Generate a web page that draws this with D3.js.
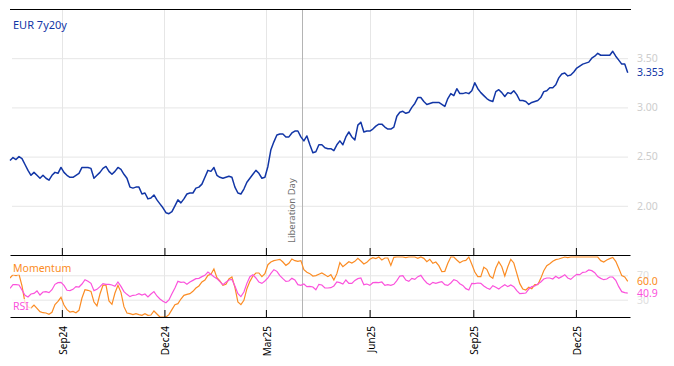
<!DOCTYPE html>
<html>
<head>
<meta charset="utf-8">
<script src="https://cdn.jsdelivr.net/npm/d3@7"></script>
<style>
    body { margin: 0; background: #fff; }
    text { font-family: "Noto Sans", "Open Sans", sans-serif; }
</style>
</head>
<body>
<div id="divChart"></div>
<script>
//series info
var seriesName = "EUR 7y20y";
var firstDate = "2024-07-17";
var lastDate = "2026-01-16";

//EUR 7y20y forward rate (roughly every other trading day)
var rateValues = [
    2.46, 2.49, 2.47, 2.50, 2.48, 2.42, 2.36, 2.31, 2.34, 2.31, 2.28, 2.31, 2.28, 2.26, 2.31, 2.34, 2.33, 2.39,
    2.34, 2.31, 2.29, 2.29, 2.31, 2.33, 2.39, 2.39, 2.39, 2.38, 2.28, 2.31, 2.34, 2.38, 2.40, 2.35, 2.32, 2.35,
    2.39, 2.37, 2.32, 2.28, 2.19, 2.18, 2.19, 2.19, 2.12, 2.13, 2.07, 2.08, 2.11, 2.06, 2.02, 1.98, 1.93,
    1.92, 1.94, 2.00, 2.06, 2.03, 2.07, 2.12, 2.13, 2.13, 2.18, 2.19, 2.22, 2.29, 2.36, 2.35, 2.39, 2.31, 2.29,
    2.28, 2.29, 2.30, 2.29, 2.19, 2.13, 2.12, 2.17, 2.24, 2.28, 2.32, 2.36, 2.33, 2.28, 2.29, 2.40, 2.57, 2.65,
    2.72, 2.73, 2.73, 2.70, 2.70, 2.74, 2.76, 2.76, 2.70, 2.66, 2.71, 2.62, 2.54,
    2.55, 2.62, 2.62, 2.59, 2.58, 2.58, 2.56, 2.62, 2.66, 2.62, 2.70, 2.75, 2.70, 2.67, 2.82, 2.85, 2.75, 2.76,
    2.76, 2.78, 2.81, 2.83, 2.83, 2.80, 2.78, 2.78, 2.80, 2.91, 2.95, 2.96, 2.94, 2.95, 3.00, 3.04, 3.10, 3.10,
    3.06, 3.03, 3.04, 3.05, 3.05, 3.05, 3.03, 3.01, 3.09, 3.14, 3.12, 3.19, 3.14, 3.14, 3.15, 3.14, 3.17, 3.25,
    3.19, 3.15, 3.12, 3.09, 3.07, 3.06, 3.16, 3.18, 3.15, 3.11, 3.15, 3.14, 3.17, 3.13, 3.07, 3.07, 3.06, 3.03,
    3.05, 3.06, 3.07, 3.10, 3.16, 3.17, 3.20, 3.20, 3.23, 3.30, 3.34, 3.35, 3.32, 3.33, 3.36, 3.40, 3.42, 3.44,
    3.45, 3.46, 3.50, 3.52, 3.55, 3.53, 3.53, 3.53, 3.53, 3.57, 3.52, 3.48, 3.44, 3.44, 3.353
];

var momentumValues = [
    65.6, 71.0, 69.4, 71.6, 52.5, 25.1, 18.0, 16.4, 21.3, 15.8, 10.4, 8.7, 8.2, 6.0, 9.3, 21.9, 27.3, 33.9,
    21.3, 13.7, 9.8, 10.9, 8.7, 12.6, 32.8, 46.4, 45.4, 43.7, 26.2, 19.7, 39.3, 53.5, 54.1, 27.9, 22.4, 41.0,
    53.5, 42.1, 18.6, 8.2, 7.1, 5.5, 7.1, 5.5, 4.4, 7.1, 4.4, 4.9, 11.5, 6.6, 1.6, 1.6, 1.6, 5.5, 13.7, 21.9,
    23.5, 31.1, 37.2, 38.8, 39.9, 43.7, 49.2, 52.5, 59.0, 62.3, 69.9, 71.6, 80.3, 66.1, 60.7, 53.5, 55.2, 63.9,
    67.2, 50.3, 26.2, 21.9, 29.0, 48.1, 60.1, 68.8, 73.8, 73.8, 67.8, 72.7, 87.4, 91.8, 94.0, 95.1, 96.2, 91.8,
    86.3, 89.6, 96.7, 94.0, 92.9, 94.0, 79.2, 74.9, 72.7, 68.8, 69.4,
    71.6, 73.8, 71.0, 67.8, 71.0, 62.3, 72.7, 90.7, 84.1, 88.0, 92.3, 90.2, 92.9, 97.8, 93.4, 88.5, 91.2, 96.2,
    98.9, 97.3, 100, 95.1, 98.4, 98.4, 86.3, 99.4, 100, 100, 100, 98.9, 100, 100, 100, 97.8, 100, 97.8,
    92.3, 96.2, 89.6, 91.8, 85.8, 76.0, 76.5, 89.6, 100, 100, 95.1, 90.7, 93.4, 94.5, 100, 88.0, 75.4, 67.8,
    67.8, 83.1, 79.8, 68.8, 65.0, 82.0, 92.3, 84.1, 68.8, 84.1, 96.2, 90.2, 73.2, 56.3, 47.5, 45.9, 50.3, 48.1,
    54.6, 54.6, 65.0, 77.6, 85.8, 89.1, 92.9, 95.6, 96.7, 98.4, 100, 98.9, 100, 100, 100, 100, 100, 100,
    100, 100, 100, 100, 94.0, 91.8, 95.1, 97.3, 99.4, 92.9, 81.4, 69.4, 67.2, 60.0
];

var rsiValues = [
    48.6, 54.6, 54.6, 54.1, 45.9, 37.2, 34.4, 39.3, 40.4, 44.3, 37.7, 42.6, 43.2, 41.5, 46.4, 55.2, 57.9, 58.5,
    53.5, 45.4, 44.8, 47.0, 51.4, 50.8, 55.7, 62.8, 60.1, 56.8, 44.8, 47.0, 51.4, 56.3, 55.2, 55.2, 54.1, 51.9,
    59.0, 51.9, 43.2, 38.8, 35.0, 37.2, 37.7, 39.9, 37.7, 39.3, 34.4, 39.3, 43.2, 36.1, 31.1, 27.3, 25.1, 29.5,
    39.9, 49.2, 60.1, 58.5, 59.0, 55.2, 59.0, 61.7, 64.5, 65.0, 67.8, 69.9, 75.4, 71.6, 67.8, 64.5, 59.6, 54.6,
    58.5, 62.3, 63.4, 52.5, 39.9, 35.0, 42.6, 56.8, 67.8, 71.0, 65.6, 59.0, 56.8, 60.7, 65.6, 73.2, 79.2, 76.5,
    69.4, 64.5, 60.1, 60.7, 65.0, 62.3, 54.6, 53.5, 55.7, 51.4, 51.9, 50.8, 46.4,
    55.2, 54.1, 49.2, 49.2, 49.7, 52.5, 59.0, 57.9, 55.7, 62.3, 56.8, 56.8, 61.7, 64.5, 65.6, 54.6, 55.7, 53.5,
    57.9, 58.5, 57.9, 59.0, 53.5, 54.6, 53.5, 55.2, 61.2, 68.8, 69.4, 62.3, 60.1, 65.0, 63.4, 67.8, 69.9, 62.8,
    57.4, 54.6, 58.5, 56.8, 58.5, 59.6, 54.6, 53.5, 57.4, 62.8, 61.2, 56.3, 53.5, 48.1, 45.9, 56.8, 56.3, 57.4,
    56.8, 52.5, 49.2, 47.0, 53.0, 50.3, 47.5, 51.4, 54.6, 51.4, 54.1, 51.4, 44.8, 39.9, 40.4, 41.0, 47.5, 51.4,
    52.5, 55.7, 59.0, 63.9, 65.6, 65.6, 63.9, 68.3, 65.0, 67.8, 71.0, 65.6, 63.4, 67.8, 71.6, 71.0, 74.9, 75.4,
    78.7, 77.6, 74.3, 67.8, 65.0, 62.8, 63.9, 67.2, 67.2, 61.7, 51.4, 43.2, 41.5, 40.9
];

var rateTicks = [2.0, 2.5, 3.0, 3.5];
var oscTicks = [30, 70];
var monthTicks = ["2024-09-01", "2024-12-01", "2025-03-01", "2025-06-01", "2025-09-01", "2025-12-01"];
var eventDate = "2025-04-02";
var eventLabel = "Liberation Day";

var colRate = "#1236a6";
var colMomentum = "#fb8c24";
var colRsi = "#fb52dc";
var colGrid = "#e6e6e6";

var parseDate = d3.timeParse("%Y-%m-%d");

function spreadOverDates(values) {
    //values are sampled evenly between first and last date
    var t0 = parseDate(firstDate).getTime(), t1 = parseDate(lastDate).getTime();
    return values.map(function (v, i) {
        return { date: new Date(t0 + i * (t1 - t0) / (values.length - 1)), value: v };
    });
}

var rateData = spreadOverDates(rateValues);
var momentumData = spreadOverDates(momentumValues);
var rsiData = spreadOverDates(rsiValues);
var months = monthTicks.map(parseDate);

var width = 674, height = 366;
var left = 10, right = 630;
var mainTop = 9, mainBottom = 255, oscBottom = 317;

var svg = d3.select("#divChart").append("svg")
    .attr("width", width).attr("height", height);

var x = d3.scaleTime()
    .domain([parseDate("2024-07-17"), parseDate("2026-01-18")])
    .range([left, right]);
var yMain = d3.scaleLinear().domain([1.5, 4.0]).range([mainBottom, mainTop]);
var yOsc = d3.scaleLinear().domain([0, 100]).range([318, 257]);

//============== GRID ==============
var grid = svg.append("g").attr("class", "grid");
months.forEach(function (m) {
    var xp = Math.round(x(m)) + 0.5;
    grid.append("line").attr("x1", xp).attr("x2", xp).attr("y1", mainTop).attr("y2", oscBottom)
        .attr("stroke", colGrid);
});

//horizontal grid + right labels for main panel
var mainAxis = svg.append("g")
    .attr("transform", "translate(628,0)")
    .call(d3.axisRight(yMain).tickValues(rateTicks).tickSize(-616).tickPadding(9).tickFormat(d3.format(".2f")));
mainAxis.select(".domain").remove();
mainAxis.selectAll("line").attr("stroke", colGrid);
mainAxis.selectAll("text").attr("fill", "#cdcdcd").style("font-size", "10.5px").style("font-family", null);

var oscAxis = svg.append("g")
    .attr("transform", "translate(628,0)")
    .call(d3.axisRight(yOsc).tickValues(oscTicks).tickSize(-616).tickPadding(9).tickFormat(d3.format("d")));
oscAxis.select(".domain").remove();
oscAxis.selectAll("line").attr("stroke", colGrid);
oscAxis.selectAll("text").attr("fill", "#e0e0e0").style("font-size", "10.5px").style("font-family", null);

//============== EVENT LINE ==============
var ex = Math.round(x(parseDate(eventDate))) + 0.5;
svg.append("line").attr("x1", ex).attr("x2", ex).attr("y1", mainTop).attr("y2", oscBottom)
    .attr("stroke", "#b4b4b4");
svg.append("text")
    .attr("transform", "translate(" + (ex - 8) + "," + 243 + ") rotate(-90)")
    .attr("fill", "#6e6e6e").style("font-size", "9.5px")
    .text(eventLabel);

//============== LINES ==============
svg.append("clipPath").attr("id", "clipOsc")
    .append("rect").attr("x", left).attr("y", mainBottom).attr("width", right - left).attr("height", oscBottom - mainBottom);

var rateLine = d3.line().x(function (d) { return x(d.date); }).y(function (d) { return yMain(d.value); });
var oscLine = d3.line().x(function (d) { return x(d.date); }).y(function (d) { return yOsc(d.value); });

svg.append("path").datum(momentumData).attr("d", oscLine)
    .attr("fill", "none").attr("stroke", colMomentum).attr("stroke-width", 1.2).attr("clip-path", "url(#clipOsc)");
svg.append("path").datum(rsiData).attr("d", oscLine)
    .attr("fill", "none").attr("stroke", colRsi).attr("stroke-width", 1.2).attr("clip-path", "url(#clipOsc)");
svg.append("path").datum(rateData).attr("d", rateLine)
    .attr("fill", "none").attr("stroke", colRate).attr("stroke-width", 1.5).attr("stroke-linejoin", "round");

//============== LABELS ==============
svg.append("text").attr("x", 13).attr("y", 29).attr("fill", colRate).style("font-size", "11px").text(seriesName);

function labelWithBackground(txt, xp, yp, col) {
    var g = svg.append("g");
    var t = g.append("text").attr("x", xp).attr("y", yp).attr("fill", col).style("font-size", "10.5px").text(txt);
    var bb = t.node().getBBox();
    g.insert("rect", "text").attr("x", bb.x - 2).attr("y", bb.y).attr("width", bb.width + 4).attr("height", bb.height)
        .attr("fill", "#fff").attr("opacity", 0.75);
}
labelWithBackground("Momentum", 13, 272, colMomentum);
labelWithBackground("RSI", 13, 310, colRsi);

//last values on the right
var lastRate = rateData[rateData.length - 1].value;
var lastMom = momentumData[momentumData.length - 1].value;
var lastRsi = rsiData[rsiData.length - 1].value;
svg.append("text").attr("x", 637).attr("y", yMain(lastRate)).attr("dy", "0.35em")
    .attr("fill", colRate).style("font-size", "10.5px").text(d3.format(".3f")(lastRate));
svg.append("text").attr("x", 637).attr("y", yOsc(lastMom)).attr("dy", "0.35em")
    .attr("fill", colMomentum).style("font-size", "10.5px").text(d3.format(".1f")(lastMom));
svg.append("text").attr("x", 637).attr("y", yOsc(lastRsi)).attr("dy", "0.35em")
    .attr("fill", colRsi).style("font-size", "10.5px").text(d3.format(".1f")(lastRsi));

//============== BORDERS + TICKS ==============
svg.append("line").attr("x1", left).attr("x2", right + 1).attr("y1", mainTop + 0.5).attr("y2", mainTop + 0.5).attr("stroke", "#000");

var tickTop = svg.append("g").attr("transform", "translate(0," + mainBottom + ")")
    .call(d3.axisTop(x).tickValues(months).tickSize(7).tickSizeOuter(0).tickFormat(""));
var tickBottom = svg.append("g").attr("transform", "translate(0," + oscBottom + ")")
    .call(d3.axisTop(x).tickValues(months).tickSize(7).tickSizeOuter(0).tickFormat(""));
[tickTop, tickBottom].forEach(function (g) {
    g.selectAll("path, line").attr("stroke", "#000");
});

//month labels, rotated
svg.append("g").selectAll("text").data(months).enter().append("text")
    .attr("transform", function (d) { return "translate(" + (Math.round(x(d)) + 4.5) + ",326) rotate(-90)"; })
    .attr("text-anchor", "end")
    .attr("fill", "#000").style("font-size", "10px")
    .text(d3.timeFormat("%b%y"));
</script>
</body>
</html>
